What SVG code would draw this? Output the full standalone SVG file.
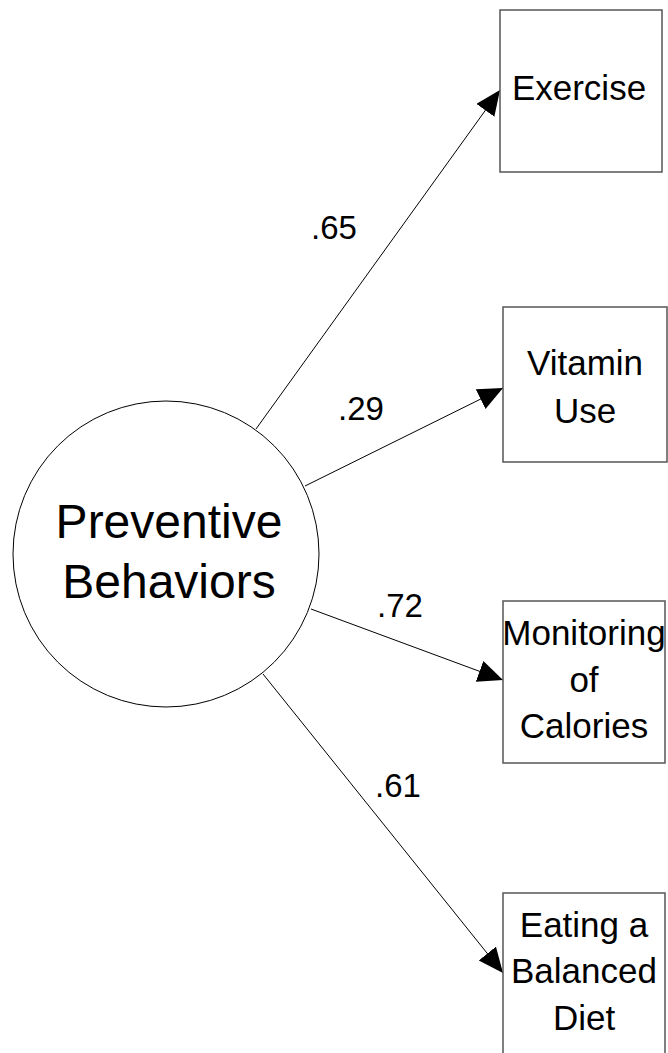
<svg xmlns="http://www.w3.org/2000/svg" width="668" height="1053" viewBox="0 0 668 1053">
<style>
text{font-family:"Liberation Sans",Arial,sans-serif;fill:#000;text-anchor:middle}
.box{fill:#fff;stroke:#555;stroke-width:1.5}
.t{font-size:35px}
.big{font-size:48px}
.lbl{font-size:33px}
.c{stroke:#000;stroke-width:1;fill:none}
</style>
<defs>
<marker id="ah" markerUnits="userSpaceOnUse" markerWidth="28" markerHeight="24" refX="25" refY="11" orient="auto">
<path d="M0,0 L25,11 L0,22 z" fill="#000"/>
</marker>
</defs>
<rect width="668" height="1053" fill="#fff"/>
<g id="connectors">
<line class="c" x1="256" y1="429" x2="500" y2="90" marker-end="url(#ah)"/>
<line class="c" x1="305" y1="486" x2="503" y2="388" marker-end="url(#ah)"/>
<line class="c" x1="311" y1="609" x2="503" y2="680" marker-end="url(#ah)"/>
<line class="c" x1="263" y1="674" x2="503" y2="973" marker-end="url(#ah)"/>
<text class="lbl" x="334" y="239">.65</text>
<text class="lbl" x="361" y="420">.29</text>
<text class="lbl" x="400" y="617">.72</text>
<text class="lbl" x="398" y="797">.61</text>
</g>
<g id="preventive">
<circle cx="166" cy="554" r="153" fill="#fff" stroke="#000" stroke-width="1"/>
<text class="big" x="169" y="538">Preventive</text>
<text class="big" x="169" y="598">Behaviors</text>
</g>
<g id="exercise">
<rect class="box" x="500" y="10" width="162" height="162"/>
<text class="t" x="579" y="100">Exercise</text>
</g>
<g id="vitamin">
<rect class="box" x="503" y="307" width="164" height="155"/>
<text class="t" x="585" y="375">Vitamin</text>
<text class="t" x="585" y="423">Use</text>
</g>
<g id="monitoring">
<rect class="box" x="503" y="601" width="162" height="162"/>
<text class="t" x="584" y="645">Monitoring</text>
<text class="t" x="584" y="692">of</text>
<text class="t" x="584" y="738">Calories</text>
</g>
<g id="eating">
<rect class="box" x="503" y="893" width="162" height="170"/>
<text class="t" x="584" y="937">Eating a</text>
<text class="t" x="584" y="983">Balanced</text>
<text class="t" x="584" y="1030">Diet</text>
</g>
</svg>
